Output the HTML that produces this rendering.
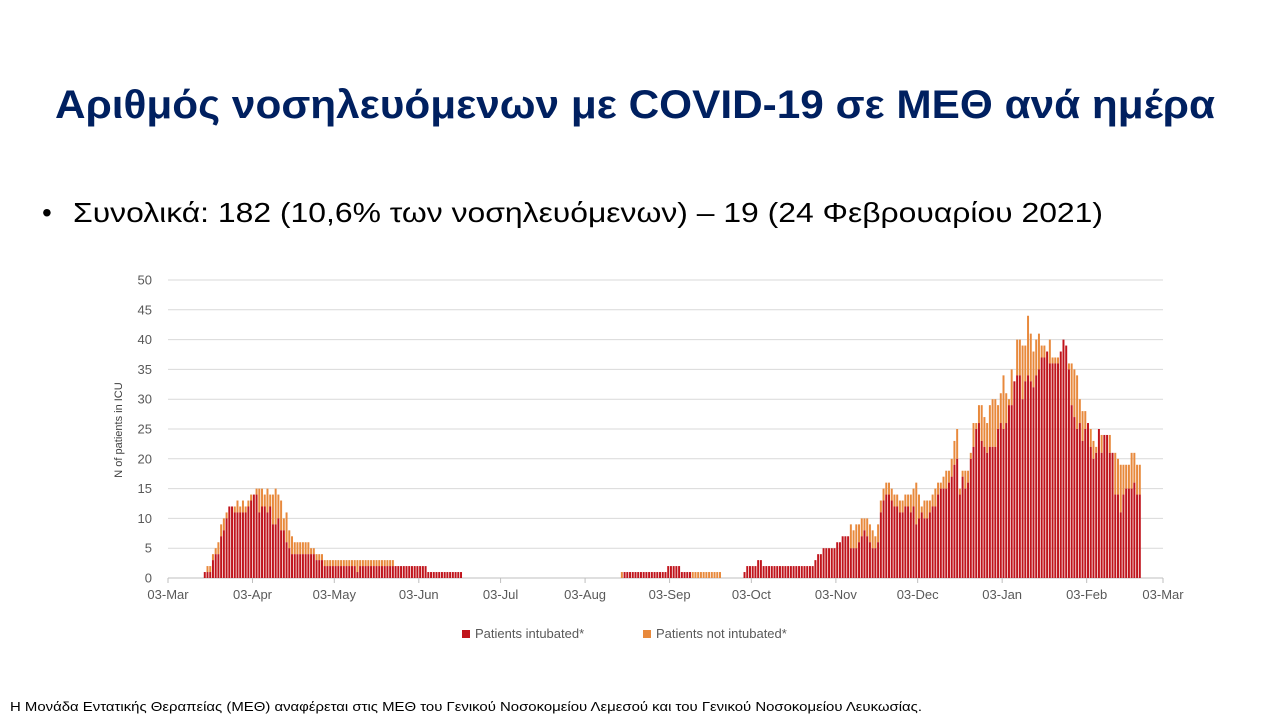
<!DOCTYPE html>
<html><head><meta charset="utf-8"><style>
body{margin:0;background:#fff;}
svg{display:block;font-family:"Liberation Sans","DejaVu Sans",sans-serif;}
</style></head><body>
<svg id="chart" width="1280" height="720" viewBox="0 0 1280 720">
<text x="635" y="118" text-anchor="middle" font-size="40" font-weight="bold" fill="#002060" textLength="1160" lengthAdjust="spacingAndGlyphs">Αριθμός νοσηλευόμενων με COVID-19 σε ΜΕΘ ανά ημέρα</text>
<text x="42" y="222" font-size="28" fill="#000">•<tspan x="73" textLength="1030" lengthAdjust="spacingAndGlyphs">Συνολικά: 182 (10,6% των νοσηλευόμενων) – 19 (24 Φεβρουαρίου 2021)</tspan></text>
<g id="grid"></g>
<g id="bars"></g>
<g id="axes"></g>
<text transform="translate(122,430) rotate(-90)" text-anchor="middle" font-size="11" fill="#404040">N of patients in ICU</text>
<g font-size="13" fill="#595959">
<rect x="462" y="630" width="8" height="8" fill="#c0141c"/>
<text x="475" y="638">Patients intubated*</text>
<rect x="643" y="630" width="8" height="8" fill="#e8893c"/>
<text x="656" y="638">Patients not intubated*</text>
</g>
<text x="10" y="711" font-size="13" fill="#000" textLength="912" lengthAdjust="spacingAndGlyphs">Η Μονάδα Εντατικής Θεραπείας (ΜΕΘ) αναφέρεται στις ΜΕΘ του Γενικού Νοσοκομείου  Λεμεσού και του Γενικού Νοσοκομείου  Λευκωσίας.</text>
</svg>
<script>
// day offset from 03-Mar-2020 of first value
const firstDay = 13;
const yTicks = [0,5,10,15,20,25,30,35,40,45,50];
const xTickDays = [0,31,61,92,122,153,184,214,245,275,306,337,365];
const xTickLabels = ["03-Mar","03-Apr","03-May","03-Jun","03-Jul","03-Aug","03-Sep","03-Oct","03-Nov","03-Dec","03-Jan","03-Feb","03-Mar"];
const intubated = [].concat(
 [1,1,1,3,4,4,7,8,10,12,12,11,11,11,11,11,12,13,14,14,11,12,12,11,12,9,9,10,8,8,6,5,4,4,4,4,4,4,4,4,4,3,3,3,2],
 [2,2,2,2,2,2,2,2,2,2,2,1,2,2,2,2,2,2,2,2,2,2,2,2,2, 2,2,2,2,2,2,2,2,2,2,2,2, 1,1,1,1,1,1,1,1,1,1,1,1,1],
 [0,0,0,0,0,0,0,0,0,0,0,0,0,0,0,0,0,0,0,0,0,0,0,0,0,0,0,0,0,0,0,0,0,0,0,0,0,0,0,0,0,0,0,0,0,0,0,0,0,0,0,0,0,0,0,0,0,0],
 [0,1,1,1,1,1,1,1,1,1,1,1,1,1,1,1,1,2,2,2,2,2,1,1,1,1,0,0,0,0,0,0,0,0,0,0,0],
 [0,0,0,0,0,0,0,0],
 [1,2,2,2,2,3,3,2,2,2,2,2,2,2,2,2,2,2,2,2,2,2,2,2],
 [2,2,3,4,4,5,5,5,5,5,6,6,7,7,7, 5,5,5,6,7,8,7,6,5,5,6,11,13, 14,14,13,12,12,11,11,12,12,11,12,9,10,11,10,10,11,12,12,14,15,15,15,16,17,19,20],
 [14,17,15,16,20,22,25,26,23,22,21,22,22,22,25,26,25,26,29,29,33,34,34,30,33,34,33,32,34,35,37,37,38,36,36,36,36,38,40,39,35,29,27,25,26,23,25,26,22,20,21,25,21,24,24,21,21,14,14,11,14,15,15,15,16,14,14]
);
const totalICU = [].concat(
 [1,2,2,4,5,6,9,10,11,12,12,12,13,12,13,12,13,14,14,15,15,15,14,15,14,14,15,14,13,10,11,8,7,6,6,6,6,6,6,5,5,4,4,4,3],
 [3,3,3,3,3,3,3,3,3,3,3,3,3,3,3,3,3,3,3,3,3,3,3,3,3, 2,2,2,2,2,2,2,2,2,2,2,2, 1,1,1,1,1,1,1,1,1,1,1,1,1],
 [0,0,0,0,0,0,0,0,0,0,0,0,0,0,0,0,0,0,0,0,0,0,0,0,0,0,0,0,0,0,0,0,0,0,0,0,0,0,0,0,0,0,0,0,0,0,0,0,0,0,0,0,0,0,0,0,0,0],
 [1,1,1,1,1,1,1,1,1,1,1,1,1,1,1,1,1,2,2,2,2,2,1,1,1,1,1,1,1,1,1,1,1,1,1,1,1],
 [0,0,0,0,0,0,0,0],
 [1,2,2,2,2,3,3,2,2,2,2,2,2,2,2,2,2,2,2,2,2,2,2,2],
 [2,2,3,4,4,5,5,5,5,5,6,6,7,7,7, 9,8,9,9,10,10,10,9,8,7,9,13,15, 16,16,15,14,14,13,13,14,14,14,15,16,14,12,13,13,13,14,15,16,16,17,18,18,20,23,25],
 [15,18,18,18,21,26,26,29,29,27,26,29,30,30,29,31,34,31,30,35,33,40,40,39,39,44,41,38,40,41,39,39,38,40,37,37,37,38,40,39,36,36,35,34,30,28,28,26,25,23,22,25,24,24,24,24,21,21,20,19,19,19,19,21,21,19,19]
);
const NS='http://www.w3.org/2000/svg';
const X0=168,X1=1163,Y0=578,Y1=280,DAYS=365,YMAX=50;
const xs=d=>X0+(d/DAYS)*(X1-X0);
const ys=v=>Y0-(v/YMAX)*(Y0-Y1);
const grid=document.getElementById('grid'),bars=document.getElementById('bars'),axes=document.getElementById('axes');
function mk(tag,attrs,parent){const e=document.createElementNS(NS,tag);for(const k in attrs)e.setAttribute(k,attrs[k]);parent.appendChild(e);return e;}
yTicks.forEach(v=>{
 const l=mk('line',{x1:X0,x2:X1,y1:ys(v),y2:ys(v),stroke:v===0?'#bfbfbf':'#d9d9d9','stroke-width':1},grid);
 
 
 const t=mk('text',{x:X0-16,y:ys(v)+4.5,'text-anchor':'end','font-size':13,fill:'#595959'},axes);
 t.textContent=v;
 
 
});
xTickDays.forEach((d,i)=>{
 const l=mk('line',{x1:xs(d),x2:xs(d),y1:Y0,y2:Y0+5,stroke:'#bfbfbf'},axes);
 
 
 const t=mk('text',{x:xs(d),y:Y0+21,'text-anchor':'middle','font-size':13,fill:'#595959'},axes);
 t.textContent=xTickLabels[i];
 
 
});
const bw=(X1-X0)/DAYS;
intubated.forEach((v,i)=>{
 const d=firstDay+i, x=xs(d)+0.35, w=bw-0.75, tot=Math.max(totalICU[i],v);
 if(tot>v){
  const r=mk('rect',{x:x,y:ys(tot),width:w,height:ys(v)-ys(tot),fill:'#e8893c'},bars);
  
  
 }
 if(v>0){
  const r=mk('rect',{x:x,y:ys(v),width:w,height:Y0-ys(v),fill:'#c0141c'},bars);
  
  
 }
});
</script>
</body></html>
